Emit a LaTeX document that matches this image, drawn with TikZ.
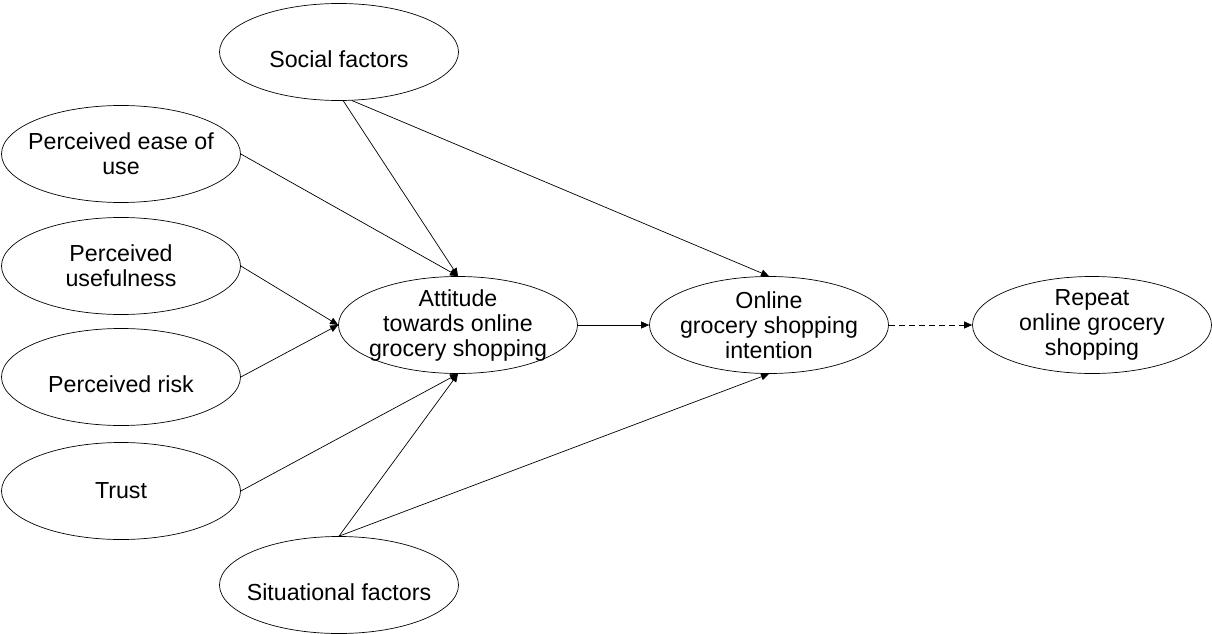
\documentclass[tikz,border=0pt]{standalone}
\usepackage{fontspec}
\setmainfont{Liberation Sans}
\usetikzlibrary{shapes.geometric,arrows.meta}
\begin{document}
\begin{tikzpicture}[x=1pt,y=-1pt,
  factor/.style={ellipse,draw,line width=0.7pt,minimum width=239pt,minimum height=97pt,
    inner xsep=-20pt,inner ysep=-12pt,align=center,font=\fontsize{23.2}{25}\selectfont},
  lowtext/.style={text height=30pt,text depth=0pt},
  conn/.style={line width=0.7pt,-{Triangle[length=8pt,width=7pt]}}]
\useasboundingbox (0,0) rectangle (1212,634);
\node[factor,lowtext] (social) at (339,52) {Social factors};
\node[factor] (ease) at (121,154) {Perceived ease of\\use};
\node[factor] (useful) at (121,266) {Perceived\\usefulness};
\node[factor,lowtext] (risk) at (121,377) {Perceived risk};
\node[factor] (trust) at (121,491) {Trust};
\node[factor,lowtext] (situ) at (339,585) {Situational factors};
\node[factor] (att) at (458,325) {Attitude\\towards online\\grocery shopping};
\node[factor] (int) at (769,325) {Online\\grocery shopping\\intention};
\node[factor] (rep) at (1092,325) {Repeat\\online grocery\\shopping};
\draw[conn] (ease.east) -- (att.north);
\draw[conn] (social.-85) -- (att.north);
\draw[conn] (social.-75) -- (int.north);
\draw[conn] (useful.east) -- (att.west);
\draw[conn] (risk.east) -- (att.west);
\draw[conn] (trust.east) -- (att.south);
\draw[conn] (situ.north) -- (att.south);
\draw[conn] (situ.north) -- (int.south);
\draw[conn] (att.east) -- (int.west);
\draw[conn,dashed,dash pattern=on 6pt off 4pt] (int.east) -- (rep.west);
\end{tikzpicture}
\end{document}
